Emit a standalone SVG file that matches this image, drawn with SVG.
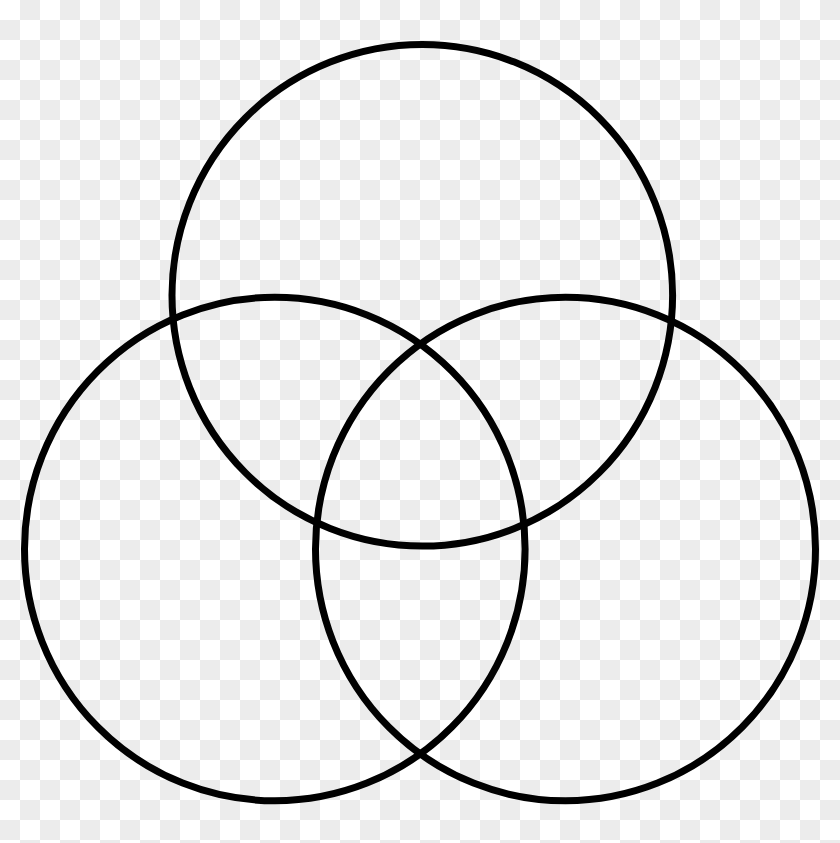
<svg xmlns="http://www.w3.org/2000/svg" width="840" height="843" viewBox="0 0 840 843">
<defs>
<pattern id="checker" x="0" y="0" width="40" height="40" patternUnits="userSpaceOnUse">
<rect x="0" y="0" width="40" height="40" fill="#ffffff"/>
<rect x="20" y="0" width="20" height="20" fill="#ececec"/>
<rect x="0" y="20" width="20" height="20" fill="#ececec"/>
</pattern>
</defs>
<style>
.ring { fill: none; stroke: #000000; stroke-width: 7; }
</style>
<rect x="0" y="0" width="840" height="843" fill="url(#checker)"/>
<g id="circle-top"><ellipse class="ring" cx="422.3" cy="295.3" rx="250.3" ry="250.8"/></g>
<g id="circle-left"><ellipse class="ring" cx="274.8" cy="549" rx="250.3" ry="251.8"/></g>
<g id="circle-right"><ellipse class="ring" cx="565.5" cy="549" rx="250" ry="251.8"/></g>
<g id="connectors"></g>
</svg>
